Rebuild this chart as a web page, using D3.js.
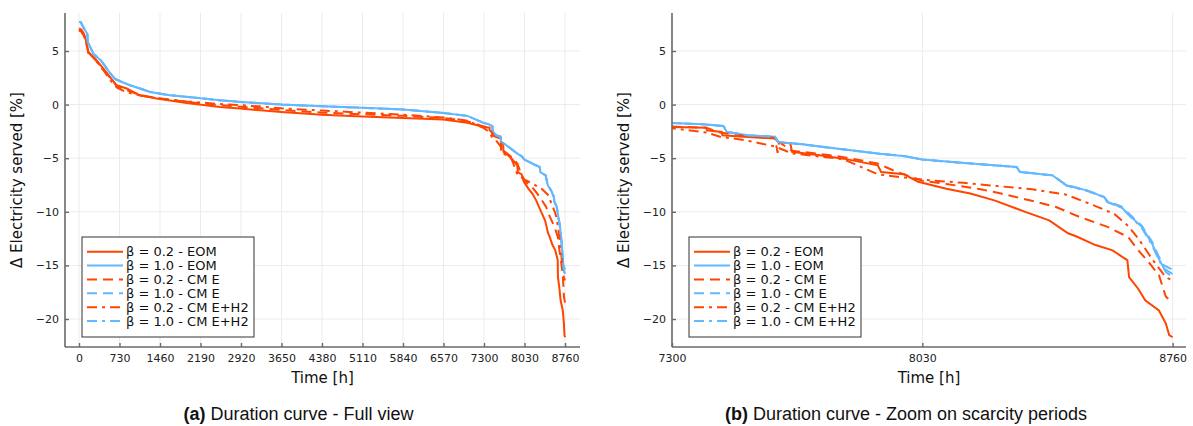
<!DOCTYPE html>
<html><head><meta charset="utf-8">
<script src="https://cdn.jsdelivr.net/npm/d3@7"></script>
<style>
body{margin:0;background:#fff;}
svg{display:block;}
</style></head>
<body>
<svg id="chart" width="1193" height="426"></svg>
<script>
// ---- DATA ----
const xTicksFull = [0,730,1460,2190,2920,3650,4380,5110,5840,6570,7300,8030,8760];
const xTicksZoom = [7300,8030,8760];
const yTicks = [5,0,-5,-10,-15,-20];

const b02_eom = [[0,7.1],[40,7.0],[90,6.6],[130,5.9],[170,4.9],[290,4.3],[440,3.36],[560,2.57],[680,1.8],[860,1.5],[1100,0.87],[1400,0.56],[1940,0.15],[2540,-0.22],[2900,-0.37],[3650,-0.7],[4380,-0.95],[5110,-1.1],[5840,-1.25],[6570,-1.4],[7000,-1.7],[7300,-2.09],[7400,-2.15],[7402,-2.4],[7445,-2.55],[7447,-2.86],[7510,-3.0],[7600,-3.17],[7610,-3.5],[7645,-3.6],[7650,-4.4],[7730,-4.73],[7800,-5.04],[7900,-5.66],[7910,-6.29],[7977,-6.5],[8018,-7.2],[8100,-7.84],[8170,-8.3],[8240,-8.93],[8330,-10.0],[8400,-10.8],[8455,-12.0],[8480,-12.3],[8535,-13.1],[8585,-13.6],[8613,-14.2],[8628,-14.5],[8633,-16.1],[8660,-17.2],[8680,-18.25],[8720,-19.2],[8740,-20.4],[8750,-21.5],[8760,-21.7]];

const b10_eom = [[0,7.7],[30,7.7],[60,7.4],[100,7.0],[150,6.6],[160,5.8],[200,5.4],[260,4.75],[400,4.1],[550,3.0],[650,2.4],[730,2.2],[920,1.8],[1100,1.5],[1280,1.18],[1640,0.87],[2190,0.6],[2540,0.4],[2920,0.25],[3650,0.0],[4380,-0.15],[5110,-0.3],[5840,-0.45],[6570,-0.78],[7000,-1.05],[7300,-1.72],[7390,-1.84],[7450,-2.0],[7460,-2.55],[7520,-2.86],[7600,-3.0],[7610,-3.5],[7680,-3.7],[7780,-4.1],[7900,-4.57],[7980,-4.82],[8030,-5.13],[8200,-5.57],[8305,-5.82],[8315,-6.29],[8410,-6.6],[8450,-7.53],[8510,-8.0],[8560,-8.62],[8570,-9.08],[8610,-9.55],[8640,-10.5],[8670,-11.4],[8700,-12.97],[8720,-14.4],[8735,-15.3],[8760,-15.8]];

const b02_cme = [[0,6.9],[40,6.8],[90,6.4],[130,5.7],[170,4.8],[290,4.2],[440,3.3],[560,2.5],[680,1.75],[860,1.35],[1100,0.9],[1400,0.6],[1940,0.25],[2540,-0.05],[2900,-0.2],[3650,-0.5],[4380,-0.75],[5110,-0.9],[5840,-1.05],[6570,-1.25],[7000,-1.55],[7300,-2.05],[7400,-2.15],[7440,-2.6],[7510,-2.9],[7600,-3.1],[7608,-4.5],[7612,-3.5],[7650,-4.3],[7730,-4.6],[7800,-4.9],[7900,-5.5],[7950,-6.2],[8030,-7.1],[8100,-7.4],[8200,-7.9],[8260,-8.3],[8363,-9.08],[8420,-9.55],[8490,-10.5],[8570,-11.4],[8630,-12.35],[8660,-13.6],[8690,-14.7],[8720,-15.9],[8740,-17.9],[8760,-18.5]];

const b10_cme = [[0,7.7],[30,7.7],[60,7.4],[100,7.0],[150,6.6],[160,5.8],[200,5.4],[260,4.75],[400,4.1],[550,3.0],[650,2.4],[730,2.2],[920,1.8],[1100,1.5],[1280,1.18],[1640,0.87],[2190,0.6],[2540,0.4],[2920,0.25],[3650,0.0],[4380,-0.15],[5110,-0.3],[5840,-0.45],[6570,-0.78],[7000,-1.05],[7300,-1.72],[7390,-1.84],[7450,-2.0],[7460,-2.55],[7520,-2.86],[7600,-3.0],[7610,-3.5],[7680,-3.7],[7780,-4.1],[7900,-4.57],[7980,-4.82],[8030,-5.13],[8200,-5.57],[8305,-5.82],[8315,-6.29],[8410,-6.6],[8450,-7.5],[8510,-8.0],[8560,-8.6],[8570,-9.0],[8610,-9.5],[8640,-10.4],[8670,-11.3],[8700,-12.8],[8720,-14.2],[8735,-15.0],[8760,-15.4]];

const b02_cmeh2 = [[0,7.0],[40,6.9],[90,6.5],[130,5.8],[170,4.85],[290,4.2],[440,3.2],[560,2.3],[680,1.6],[830,1.2],[1100,0.85],[1400,0.6],[1940,0.3],[2540,0.05],[2900,-0.05],[3383,-0.22],[3650,-0.35],[4380,-0.55],[5110,-0.75],[5840,-0.95],[6570,-1.2],[7000,-1.5],[7300,-2.2],[7400,-2.6],[7440,-3.0],[7510,-3.3],[7600,-3.9],[7650,-4.55],[7800,-5.1],[7900,-6.5],[7950,-6.7],[8030,-7.0],[8150,-7.3],[8250,-7.6],[8350,-7.9],[8450,-8.4],[8530,-9.4],[8590,-10.2],[8630,-11.3],[8660,-12.5],[8700,-14.4],[8740,-16.1],[8760,-16.4]];

const b10_cmeh2 = [[0,7.7],[30,7.7],[60,7.4],[100,7.0],[150,6.6],[160,5.8],[200,5.4],[260,4.75],[400,4.1],[550,3.0],[650,2.4],[730,2.2],[920,1.8],[1100,1.5],[1280,1.18],[1640,0.87],[2190,0.6],[2540,0.4],[2920,0.25],[3650,0.0],[4380,-0.15],[5110,-0.3],[5840,-0.45],[6570,-0.78],[7000,-1.05],[7300,-1.72],[7390,-1.84],[7450,-2.0],[7460,-2.55],[7520,-2.86],[7600,-3.0],[7610,-3.5],[7680,-3.7],[7780,-4.1],[7900,-4.57],[7980,-4.82],[8030,-5.13],[8200,-5.57],[8305,-5.82],[8315,-6.29],[8410,-6.6],[8450,-7.55],[8510,-8.05],[8560,-8.65],[8570,-9.1],[8610,-9.6],[8640,-10.55],[8670,-11.5],[8700,-13.1],[8720,-14.5],[8740,-15.6],[8760,-16.1]];

const seriesNames = ["β = 0.2 - EOM","β = 1.0 - EOM","β = 0.2 - CM E","β = 1.0 - CM E","β = 0.2 - CM E+H2","β = 1.0 - CM E+H2"];
const seriesData = [b02_eom, b10_eom, b02_cme, b10_cme, b02_cmeh2, b10_cmeh2];
const seriesColors = ["#ff4500","#63b8ff","#ff4500","#63b8ff","#ff4500","#63b8ff"];
const seriesDash = [null, null, "10,6", "10,6", "10,5,3,5", "10,5,3,5"];

const captionA = ["(a)", " Duration curve - Full view"];
const captionB = ["(b)", " Duration curve - Zoom on scarcity periods"];

// ---- DRAW ----
const svg = d3.select("#chart");
const FONT = "DejaVu Sans, sans-serif";
const yDomain = [-22.61, 8.545];

function panel(id, x0, x1, xDomain, xTicks, legendX, caption, captionX) {
  const top = 13, bottom = 347;
  const x = d3.scaleLinear().domain(xDomain).range([x0, x1]);
  const y = d3.scaleLinear().domain(yDomain).range([bottom, top]);
  const g = svg.append("g");

  svg.append("defs").append("clipPath").attr("id", "clip" + id)
    .append("rect").attr("x", x0).attr("y", top).attr("width", x1 - x0).attr("height", bottom - top);

  // grid
  g.append("g").selectAll("line").data(xTicks).join("line")
    .attr("x1", d => x(d)).attr("x2", d => x(d)).attr("y1", top).attr("y2", bottom)
    .attr("stroke", "#ebebeb").attr("stroke-width", 1);
  g.append("g").selectAll("line").data(yTicks).join("line")
    .attr("x1", x0).attr("x2", x1).attr("y1", d => y(d)).attr("y2", d => y(d))
    .attr("stroke", "#ebebeb").attr("stroke-width", 1);

  // lines
  const line = d3.line().x(d => x(d[0])).y(d => y(d[1]));
  const lg = g.append("g").attr("clip-path", "url(#clip" + id + ")");
  seriesData.forEach((s, i) => {
    lg.append("path").datum(s).attr("d", line)
      .attr("fill", "none").attr("stroke", seriesColors[i]).attr("stroke-width", 2)
      .attr("stroke-linejoin", "miter")
      .attr("stroke-dasharray", seriesDash[i]);
  });

  // axes
  const ax = d3.axisBottom(x).tickValues(xTicks).tickFormat(d3.format("d"))
    .tickSizeInner(-4).tickSizeOuter(0).tickPadding(7);
  const ay = d3.axisLeft(y).tickValues(yTicks)
    .tickSizeInner(-4).tickSizeOuter(0).tickPadding(6);
  const gx = g.append("g").attr("transform", `translate(0,${bottom})`).call(ax);
  const gy = g.append("g").attr("transform", `translate(${x0},0)`).call(ay);
  [gx, gy].forEach(a => {
    a.select(".domain").attr("stroke", "#6a6a6a").attr("stroke-width", 1.6);
    a.selectAll(".tick line").attr("stroke", "#6a6a6a").attr("stroke-width", 1.4);
    a.selectAll(".tick text").attr("font-family", FONT).attr("font-size", 11).attr("fill", "#222");
  });
  gx.select(".domain").attr("d", `M${x0},0H${x1}`);
  gy.select(".domain").attr("d", `M0,${top}V${bottom}`);

  // axis titles
  g.append("text").attr("x", (x0 + x1) / 2).attr("y", 383).attr("text-anchor", "middle")
    .attr("font-family", FONT).attr("font-size", 15).attr("fill", "#111").text("Time [h]");
  g.append("text").attr("transform", `translate(${x0 - 43},${(top + bottom) / 2}) rotate(-90)`)
    .attr("text-anchor", "middle").attr("font-family", FONT).attr("font-size", 15).attr("fill", "#111")
    .text("Δ Electricity served [%]");

  // legend
  const lgd = g.append("g");
  const bx = legendX, by = 237, bw = 172, bh = 100;
  lgd.append("rect").attr("x", bx).attr("y", by).attr("width", bw).attr("height", bh)
    .attr("fill", "#fff").attr("stroke", "#333").attr("stroke-width", 1);
  seriesNames.forEach((n, i) => {
    const cy = by + 14.7 + i * 13.86;
    lgd.append("line").attr("x1", bx + 5).attr("x2", bx + 41).attr("y1", cy).attr("y2", cy)
      .attr("stroke", seriesColors[i]).attr("stroke-width", 2).attr("stroke-dasharray", seriesDash[i]);
    lgd.append("text").attr("x", bx + 44).attr("y", cy).attr("dy", "0.36em")
      .attr("font-family", FONT).attr("font-size", 13).attr("fill", "#111").text(n);
  });

  // caption
  const t = svg.append("text").attr("x", captionX).attr("y", 420).attr("text-anchor", "middle")
    .attr("font-family", "Liberation Sans, Arial, sans-serif").attr("font-size", 18).attr("fill", "#111");
  t.append("tspan").attr("font-weight", "bold").text(caption[0]);
  t.append("tspan").text(caption[1]);
}

panel("a", 65, 580, [-252.3, 9030], xTicksFull, 82, captionA, 298.5);
panel("b", 672, 1186, [7300, 8799], xTicksZoom, 689, captionB, 906);
</script>
</body></html>
